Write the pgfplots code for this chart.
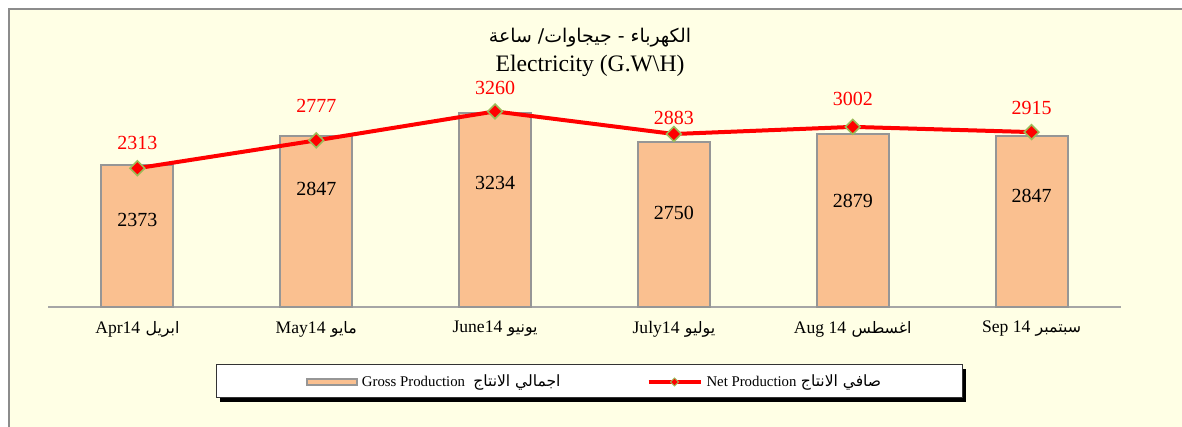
\documentclass[border=0pt]{standalone}
\usepackage{pgfplots}
\pgfplotsset{compat=1.18}
\usepackage{fontspec}
\setmainfont{Liberation Serif}
\newfontfamily\arabicfont[Script=Arabic,Scale=0.9]{DejaVu Sans}
\newfontfamily\arabicfontL[Script=Arabic,Scale=1.05]{DejaVu Sans}
\TeXXeTstate=1
\newcommand{\ar}[1]{\hspace{0.3em}{\arabicfont\beginR #1\endR}}
\newcommand{\arL}[1]{\hspace{0.3em}{\arabicfontL\beginR #1\endR}}
\definecolor{bg}{HTML}{FFFFE5}
\definecolor{framegray}{HTML}{8C8C8C}
\definecolor{barfill}{HTML}{FAC090}
\definecolor{bargray}{HTML}{969696}
\definecolor{axisgray}{HTML}{A6A6A6}
\definecolor{markgreen}{HTML}{9BBB59}
\begin{document}
\begin{tikzpicture}
\useasboundingbox (0pt,0pt) rectangle (591pt,213.5pt);
\fill[white] (0pt,0pt) rectangle (591pt,213.5pt);
\fill[bg] (4.5pt,0pt) rectangle (591pt,209pt);
\draw[framegray, line width=1pt] (4.5pt,0pt) -- (4.5pt,209pt) -- (591pt,209pt);
% legend frame with shadow
\fill[black] (110pt,12.5pt) rectangle (483pt,29pt);
\filldraw[fill=white, draw=black!80, line width=0.5pt] (108pt,14.5pt) rectangle (481pt,31pt);
% title
\node[font=\fontsize{10.5}{12}\selectfont] at (295pt,194.5pt) {{\arabicfont\beginR الكهرباء - جيجاوات/ ساعة\endR}};
\node[font=\fontsize{11.8}{14}\selectfont] at (295pt,180.5pt) {Electricity (G.W\textbackslash H)};
\begin{axis}[
  at={(24pt,60pt)}, anchor=south west,
  width=536.5pt, height=120pt, scale only axis,
  xmin=-0.5, xmax=5.5, ymin=0, ymax=4000,
  clip=false,
  axis x line=bottom,
  x axis line style={draw=axisgray, line width=1pt, -},
  hide y axis,
  xtick={0,1,2,3,4,5},
  xticklabels={{Apr14\ar{ابريل}},{May14\ar{مايو}},{June14\ar{يونيو}},{July14\ar{يوليو}},{Aug 14\ar{اغسطس}},{Sep 14\ar{سبتمبر}}},
  major tick length=0pt,
  xticklabel style={font=\fontsize{8.8}{10}\selectfont, yshift=-3.5pt},
  legend columns=2,
  legend style={at={(axis description cs:0.5105,-0.3125)}, anchor=center, draw=none, fill=none,
    font=\fontsize{7.4}{9}\selectfont,
    /tikz/every even column/.append style={column sep=41pt}},
]
\addplot[ybar, bar width=36pt, fill=barfill, draw=bargray, line width=1pt,
  legend image code/.code={\draw[fill=barfill, draw=bargray, line width=0.8pt] (0pt,-1.5pt) rectangle (25pt,1.5pt);}]
  coordinates {(0,2373) (1,2847) (2,3234) (3,2750) (4,2879) (5,2847)};
\addlegendentry{Gross Production\ \arL{اجمالي الانتاج}}
\addplot[red, line width=2pt, mark=square*, mark size=2.6pt,
  mark options={fill=red, draw=markgreen, line width=0.8pt, rotate=45},
  legend image code/.code={\draw[red, line width=2pt] (0pt,0pt) -- (26pt,0pt);
    \path[fill=red, draw=markgreen, line width=0.5pt] (13pt,2pt) -- (15pt,0pt) -- (13pt,-2pt) -- (11pt,0pt) -- cycle;}]
  coordinates {(0,2313) (1,2777) (2,3260) (3,2883) (4,3002) (5,2915)};
\addlegendentry{Net Production\arL{صافي الانتاج}}
% gross value labels inside bars
\addplot[forget plot, draw=none, mark=none, nodes near coords, point meta=explicit symbolic,
  every node near coord/.style={anchor=center, font=\fontsize{10}{12}\selectfont, text=black}]
  table[meta=lab] {
x y lab
0 1450 2373
1 1967 2847
2 2067 3234
3 1567 2750
4 1767 2879
5 1850 2847
};
% net value labels
\addplot[forget plot, draw=none, mark=none, nodes near coords, point meta=explicit symbolic,
  every node near coord/.style={anchor=center, font=\fontsize{10}{12}\selectfont, text=red}]
  table[meta=lab] {
x y lab
0 2733 2313
1 3350 2777
2 3650 3260
3 3150 2883
4 3467 3002
5 3317 2915
};
\end{axis}
\end{tikzpicture}
\end{document}
